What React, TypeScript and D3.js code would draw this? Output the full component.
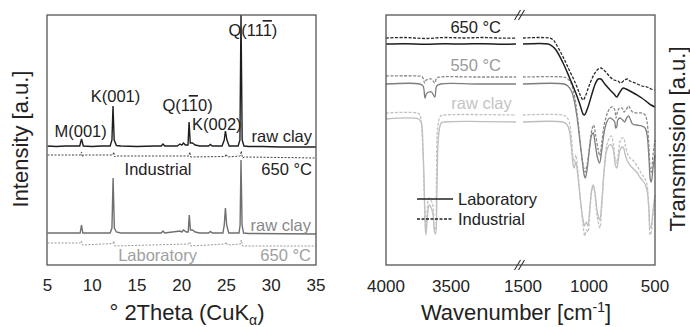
import React from 'react';
import * as d3 from 'd3';

// ---- XRD (left) ----
const xrdTicks = [5, 10, 15, 20, 25, 30, 35];

// [2theta, intensity a.u.]
const xrdIndustrialRaw: [number, number][] = [
  [5, 119], [6, 118.5], [7, 119], [8, 119], [8.6, 119], [8.8, 126], [9.0, 119], [10, 118.5], [11, 119],
  [12.0, 119], [12.2, 125], [12.32, 159], [12.45, 125], [12.7, 119.5], [13.2, 119], [15, 118.5], [17, 119],
  [17.7, 119], [17.9, 121], [18.1, 119], [19.5, 119], [19.8, 121], [20.0, 120], [20.2, 122], [20.4, 120],
  [20.7, 120], [20.82, 143], [20.95, 122], [21.2, 122], [21.5, 120], [22, 119], [23.0, 119], [23.2, 120.5],
  [23.4, 119], [24.5, 119], [24.75, 125], [24.88, 134], [25.05, 125], [25.3, 119], [26.3, 119], [26.5, 125],
  [26.62, 252], [26.75, 125], [26.95, 119], [27.5, 118.5], [29, 118.5], [31, 118], [33, 118], [35, 118],
];
const xrdIndustrial650: [number, number][] = [
  [5, 110], [8.7, 110], [8.8, 113], [8.9, 108], [9.0, 110], [12.3, 110], [12.4, 113], [12.5, 108], [12.6, 109],
  [20.8, 109], [20.9, 113], [21.0, 108], [24.85, 108.5], [24.95, 111], [25.1, 108], [26.55, 109], [26.65, 114],
  [26.8, 107], [27, 108], [35, 107],
];
const xrdLabRaw: [number, number][] = [
  [5, 32], [8, 32], [8.65, 32], [8.8, 40], [8.95, 32], [12.0, 32], [12.2, 37], [12.33, 87], [12.47, 37],
  [12.7, 33], [13.2, 32], [17.7, 32], [17.9, 34], [18.1, 32], [19.8, 34], [20.0, 33], [20.2, 35], [20.5, 33],
  [20.72, 33], [20.84, 50], [20.97, 35], [21.2, 35], [21.5, 33], [22, 32], [23.0, 32], [23.2, 33.5], [23.4, 32],
  [24.6, 32], [24.75, 40], [24.88, 57], [25.02, 40], [25.25, 32], [26.4, 32], [26.52, 40], [26.62, 105],
  [26.74, 40], [26.9, 32], [27.5, 31.5], [35, 31],
];
const xrdLab650: [number, number][] = [
  [5, 22], [8.7, 22], [8.8, 24], [8.9, 20], [12.3, 21.5], [12.4, 24], [12.5, 19], [20.8, 21], [20.9, 23],
  [21.0, 19], [24.85, 21], [24.95, 23], [25.1, 20], [26.55, 21], [26.65, 25], [26.8, 19], [35, 19],
];

// ---- FTIR (right) ----
const ftirTicksHigh = [4000, 3500];
const ftirTicksLow = [1500, 1000, 500];

// [wavenumber, transmission a.u.]
const ftirInd650: [number, number][] = [
  [4000, 227], [3850, 227.5], [3700, 226.5], [3550, 227.5], [3400, 227], [3250, 227.5], [3100, 226.8], [3000, 227],
  [1500, 227], [1300, 227], [1270, 225], [1250, 221], [1200, 209], [1150, 195], [1100, 181], [1070, 171],
  [1045, 165], [1030, 168], [1000, 179], [960, 191], [930, 196], [910, 197], [880, 194], [840, 188], [810, 185],
  [780, 184], [760, 182], [730, 185], [710, 186], [690, 184], [650, 182], [600, 179], [560, 178], [530, 176], [500, 175],
];
const ftirLab650: [number, number][] = [
  [4000, 221], [3850, 221.3], [3700, 220.8], [3550, 221.2], [3400, 221], [3250, 221.3], [3100, 220.8], [3000, 221],
  [1500, 221], [1310, 221], [1280, 219], [1250, 215], [1200, 203], [1150, 188], [1100, 172], [1070, 161],
  [1045, 151], [1035, 150], [1010, 157], [980, 170], [950, 182], [930, 186], [910, 186], [880, 181], [840, 175],
  [810, 171], [790, 168], [770, 172], [740, 177], [720, 176], [690, 174], [650, 171], [600, 167], [560, 163],
  [530, 160], [500, 158],
];
const ftirInd550: [number, number][] = [
  [4000, 189], [3760, 189], [3720, 188], [3702, 182], [3690, 185], [3670, 186], [3650, 186], [3625, 182],
  [3610, 187], [3580, 188], [3300, 188], [3000, 188],
  [1500, 188], [1200, 188], [1170, 187], [1140, 183], [1120, 175], [1100, 161], [1080, 140], [1060, 115],
  [1040, 97], [1030, 93], [1015, 100], [990, 125], [975, 137], [965, 140], [950, 130], [930, 115], [918, 109],
  [905, 120], [885, 140], [860, 152], [840, 157], [820, 158], [805, 155], [795, 147], [785, 153], [770, 157],
  [750, 157], [735, 153], [720, 155], [700, 159], [690, 157], [670, 153], [640, 152], [600, 152], [575, 150],
  [560, 143], [545, 115], [535, 95], [528, 93], [515, 110], [500, 125],
];
const ftirLab550: [number, number][] = [
  [4000, 181], [3740, 181], [3715, 179], [3700, 167], [3690, 171], [3670, 173], [3650, 173], [3625, 168],
  [3610, 179], [3580, 181], [3300, 181], [3000, 181],
  [1500, 181], [1190, 181], [1160, 179], [1130, 173], [1110, 163], [1090, 147], [1070, 125], [1050, 103],
  [1035, 89], [1028, 87], [1015, 95], [995, 117], [980, 130], [968, 132], [955, 123], [935, 107], [920, 102],
  [905, 113], [885, 133], [865, 143], [845, 147], [825, 146], [805, 143], [798, 137], [790, 138], [782, 145],
  [765, 147], [745, 145], [730, 143], [715, 147], [700, 149], [685, 145], [670, 141], [640, 140], [600, 139],
  [575, 137], [560, 130], [545, 105], [535, 85], [528, 83], [515, 97], [500, 110],
];
const ftirIndRaw: [number, number][] = [
  [4000, 152], [3760, 152], [3740, 150], [3720, 125], [3705, 65], [3695, 33], [3685, 50], [3670, 67], [3655, 65],
  [3640, 60], [3628, 37], [3620, 35], [3612, 85], [3600, 140], [3580, 149], [3550, 150], [3000, 150],
  [1500, 150], [1200, 150], [1170, 148], [1150, 143], [1135, 130], [1120, 107], [1112, 103], [1100, 110],
  [1085, 95], [1065, 65], [1045, 40], [1032, 29], [1020, 35], [1008, 33], [995, 50], [980, 73], [968, 79],
  [955, 70], [940, 50], [930, 43], [918, 37], [905, 55], [885, 95], [865, 120], [845, 127], [830, 129],
  [815, 120], [800, 105], [790, 102], [780, 110], [765, 123], [750, 127], [738, 127], [725, 120], [705, 110],
  [690, 107], [670, 105], [640, 100], [610, 93], [580, 87], [565, 83], [555, 75], [545, 50], [537, 30],
  [528, 33], [515, 50], [500, 65],
];
const ftirLabRaw: [number, number][] = [
  [4000, 146], [3750, 146], [3730, 143], [3715, 115], [3700, 50], [3693, 30], [3683, 45], [3668, 60], [3652, 57],
  [3638, 50], [3626, 33], [3618, 31], [3608, 75], [3595, 130], [3575, 142], [3550, 143], [3000, 143],
  [1500, 143], [1200, 143], [1170, 141], [1150, 135], [1135, 120], [1120, 100], [1112, 97], [1100, 103],
  [1085, 90], [1065, 65], [1045, 45], [1035, 39], [1020, 43], [1008, 39], [995, 55], [980, 75], [968, 80],
  [955, 73], [940, 55], [930, 49], [918, 45], [905, 60], [885, 95], [865, 115], [845, 120], [830, 120],
  [815, 115], [800, 100], [790, 97], [780, 103], [765, 115], [750, 118], [738, 117], [725, 110], [705, 103],
  [690, 100], [670, 97], [640, 93], [610, 87], [580, 82], [565, 77], [555, 70], [545, 53], [537, 37],
  [528, 39], [515, 55], [500, 70],
];

const FONT = "'Liberation Sans', Arial, Helvetica, sans-serif";

const App = () => {
  const svgRef = React.useRef<SVGSVGElement>(null);

  React.useEffect(() => {
    const svg = d3.select(svgRef.current);
    svg.selectAll('*').remove();
    svg.style('font-family', FONT);

    const top = 15, bottom = 265;

    // ===== XRD panel =====
    const lx = d3.scaleLinear().domain([5, 35]).range([47.5, 316]);
    const ly = d3.scaleLinear().domain([0, 250]).range([bottom, top]);

    svg.append('clipPath').attr('id', 'clipL')
      .append('rect').attr('x', 47).attr('y', top).attr('width', 269).attr('height', bottom - top);

    const xrdLine = d3.line<[number, number]>().x(d => lx(d[0])).y(d => ly(d[1]));
    const gL = svg.append('g').attr('clip-path', 'url(#clipL)');
    const xrdSeries = [
      { data: xrdIndustrialRaw, color: '#1e1e1e', dash: null, w: 1.4 },
      { data: xrdIndustrial650, color: '#444', dash: '2,1.5', w: 1 },
      { data: xrdLabRaw, color: '#6f6f6f', dash: null, w: 1.4 },
      { data: xrdLab650, color: '#9a9a9a', dash: '2,1.5', w: 1 },
    ];
    xrdSeries.forEach(s => {
      gL.append('path').attr('d', xrdLine(s.data)).attr('fill', 'none')
        .attr('stroke', s.color).attr('stroke-width', s.w)
        .attr('stroke-dasharray', s.dash);
    });

    svg.append('rect').attr('x', 47).attr('y', top).attr('width', 269).attr('height', bottom - top)
      .attr('fill', 'none').attr('stroke', '#555').attr('stroke-width', 1.3);

    svg.append('g').selectAll('text').data(xrdTicks).enter().append('text')
      .attr('x', d => lx(d)).attr('y', 291).attr('text-anchor', 'middle')
      .attr('font-size', 17).attr('fill', '#222').text(d => d);

    const lbl = (x: number, y: number, anchor: string, color: string) =>
      svg.append('text').attr('x', x).attr('y', y).attr('text-anchor', anchor)
        .attr('font-size', 16.5).attr('fill', color);

    lbl(lx(8.7), ly(128), 'middle', '#222').text('M(001)');
    lbl(lx(12.6), ly(163), 'middle', '#222').text('K(001)');
    const q110 = lbl(lx(20.65), ly(154), 'middle', '#222');
    q110.append('tspan').text('Q(1');
    q110.append('tspan').style('text-decoration', 'overline').text('1');
    q110.append('tspan').text('0)');
    lbl(lx(21.15), ly(135), 'start', '#222').text('K(002)');
    const q111 = lbl(lx(27.95), ly(229), 'middle', '#222');
    q111.append('tspan').text('Q(11');
    q111.append('tspan').style('text-decoration', 'overline').text('1');
    q111.append('tspan').text(')');

    lbl(312, 142, 'end', '#222').text('raw clay');
    lbl(lx(17.35), 175, 'middle', '#222').text('Industrial');
    lbl(312, 175, 'end', '#222').text('650 °C');
    lbl(311, 231, 'end', '#888').text('raw clay');
    lbl(lx(17.3), 261, 'middle', '#a0a0a0').text('Laboratory');
    lbl(311, 261, 'end', '#a0a0a0').text('650 °C');

    const xt = svg.append('text').attr('x', 187).attr('y', 320).attr('text-anchor', 'middle')
      .attr('font-size', 22).attr('fill', '#222');
    xt.append('tspan').text('° 2Theta (CuK');
    xt.append('tspan').attr('font-size', 14).attr('dy', 5).text('α');
    xt.append('tspan').attr('dy', -5).text(')');

    svg.append('text').attr('transform', 'translate(28,139) rotate(-90)')
      .attr('text-anchor', 'middle').attr('font-size', 22).attr('fill', '#222')
      .text('Intensity [a.u.]');

    // ===== FTIR panel =====
    const rxHigh = d3.scaleLinear().domain([4000, 3000]).range([386, 516]);
    const rxLow = d3.scaleLinear().domain([1500, 500]).range([523, 655]);
    const ry = d3.scaleLinear().domain([0, 250]).range([bottom, top]);

    const hiLine = d3.line<[number, number]>().x(d => rxHigh(d[0])).y(d => ry(d[1]))
      .curve(d3.curveCatmullRom.alpha(0.5));
    const loLine = d3.line<[number, number]>().x(d => rxLow(d[0])).y(d => ry(d[1]))
      .curve(d3.curveCatmullRom.alpha(0.5));

    const ftirSeries = [
      { data: ftirLabRaw, color: '#bdbdbd', dash: null, w: 1.3 },
      { data: ftirIndRaw, color: '#c2c2c2', dash: '3,1.5', w: 1.3 },
      { data: ftirLab550, color: '#7d7d7d', dash: null, w: 1.3 },
      { data: ftirInd550, color: '#8a8a8a', dash: '3,1.5', w: 1.3 },
      { data: ftirLab650, color: '#1e1e1e', dash: null, w: 1.5 },
      { data: ftirInd650, color: '#2a2a2a', dash: '3,1.5', w: 1.3 },
    ];
    const gR = svg.append('g');
    ftirSeries.forEach(s => {
      const hi = s.data.filter(d => d[0] >= 2000);
      const lo = s.data.filter(d => d[0] < 2000);
      [[hi, hiLine], [lo, loLine]].forEach(([pts, gen]: any) => {
        gR.append('path').attr('d', gen(pts)).attr('fill', 'none')
          .attr('stroke', s.color).attr('stroke-width', s.w)
          .attr('stroke-dasharray', s.dash);
      });
    });

    svg.append('rect').attr('x', 386).attr('y', top).attr('width', 269).attr('height', bottom - top)
      .attr('fill', 'none').attr('stroke', '#555').attr('stroke-width', 1.3);

    // axis break marks
    const bx = (rxHigh(3000) + rxLow(1500)) / 2;
    [top, bottom].forEach(yy => {
      [-2, 2].forEach(off => {
        svg.append('line')
          .attr('x1', bx + off - 3).attr('y1', yy + 5)
          .attr('x2', bx + off + 3).attr('y2', yy - 5)
          .attr('stroke', '#333').attr('stroke-width', 1.1);
      });
    });

    const gTicks = svg.append('g').attr('font-size', 17).attr('fill', '#222').attr('text-anchor', 'middle');
    ftirTicksHigh.forEach(t => gTicks.append('text').attr('x', rxHigh(t)).attr('y', 292).text(t));
    ftirTicksLow.forEach(t => gTicks.append('text').attr('x', rxLow(t)).attr('y', 292).text(t));

    lbl(rxHigh(3310), 33, 'middle', '#222').text('650 °C');
    lbl(rxHigh(3310), 71, 'middle', '#9a9a9a').text('550 °C');
    lbl(rxHigh(3265), 109, 'middle', '#c4c4c4').text('raw clay');

    // legend
    const legend = [
      { name: 'Laboratory', dash: null },
      { name: 'Industrial', dash: '3,1.5' },
    ];
    legend.forEach((l, i) => {
      const yy = 199 + i * 20;
      svg.append('line').attr('x1', 417).attr('x2', 453).attr('y1', yy).attr('y2', yy)
        .attr('stroke', '#222').attr('stroke-width', 1.4).attr('stroke-dasharray', l.dash);
      lbl(458, yy + 5.5, 'start', '#222').text(l.name);
    });

    const wt = svg.append('text').attr('x', 516).attr('y', 320).attr('text-anchor', 'middle')
      .attr('font-size', 22).attr('fill', '#222');
    wt.append('tspan').text('Wavenumber [cm');
    wt.append('tspan').attr('font-size', 14).attr('dy', -8).text('-1');
    wt.append('tspan').attr('dy', 8).text(']');

    svg.append('text').attr('transform', 'translate(685,139) rotate(-90)')
      .attr('text-anchor', 'middle').attr('font-size', 22).attr('fill', '#222')
      .text('Transmission [a.u.]');
  }, []);

  return (
    <svg ref={svgRef} width={690} height={327}
      style={{ position: 'absolute', left: 0, top: 0, background: '#fff' }} />
  );
};

export default App;
